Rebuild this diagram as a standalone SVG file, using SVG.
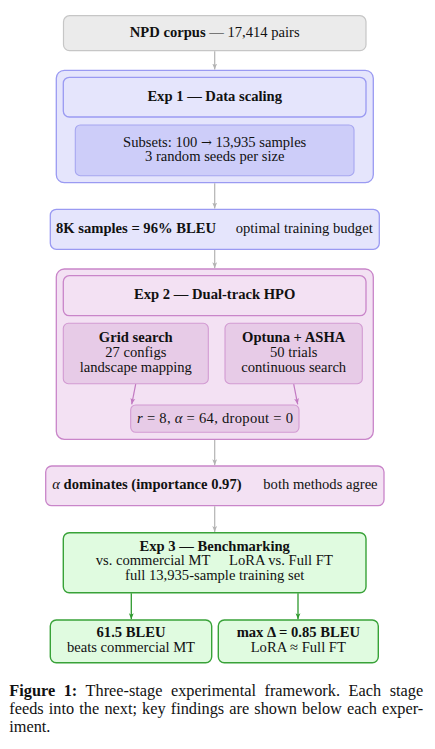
<svg xmlns="http://www.w3.org/2000/svg" width="435" height="749" viewBox="0 0 435 749">
<defs>
<style>
text{font-family:"Liberation Serif","Times New Roman",serif;font-size:14.6px;fill:#111;}
.b{font-weight:bold;}
.i{font-style:italic;}
.c{text-anchor:middle;}
.cap{font-size:16.3px;}
.gray{fill:#ebebeb;stroke:#c6c6c6;stroke-width:1.2;}
.b1{fill:#e5e5fc;stroke:#9a9af2;stroke-width:1.3;}
.b1d{fill:#cdcdf9;stroke:#a6a6f0;stroke-width:1.1;}
.b2{fill:#f3e1f3;stroke:#c985c9;stroke-width:1.3;}
.b2d{fill:#e7cbe7;stroke:#d29ad2;stroke-width:1.1;}
.b3{fill:#e0fbe0;stroke:#38a238;stroke-width:1.4;}
.cg{stroke:#b3b3b3;stroke-width:1.2;fill:none;}
.cp{stroke:#c27ac2;stroke-width:1.2;fill:none;}
.cgr{stroke:#2f9a2f;stroke-width:1.3;fill:none;}
</style>
<marker id="ag" markerUnits="userSpaceOnUse" viewBox="0 0 6 6" refX="6" refY="3" markerWidth="6" markerHeight="6" orient="auto"><path d="M0,0.6 L6,3 L0,5.4 L1.4,3 Z" fill="#b3b3b3"/></marker>
<marker id="ap" markerUnits="userSpaceOnUse" viewBox="0 0 6 6" refX="6" refY="3" markerWidth="6" markerHeight="6" orient="auto"><path d="M0,0.6 L6,3 L0,5.4 L1.4,3 Z" fill="#c27ac2"/></marker>
<marker id="agr" markerUnits="userSpaceOnUse" viewBox="0 0 6 6" refX="6" refY="3" markerWidth="6" markerHeight="6" orient="auto"><path d="M0,0.6 L6,3 L0,5.4 L1.4,3 Z" fill="#2f9a2f"/></marker>
</defs>
<rect width="435" height="749" fill="#ffffff"/>

<g id="npd">
<rect class="gray" x="63.5" y="15.7" width="302.5" height="35" rx="6"/>
<text class="c" x="214.7" y="36.9"><tspan class="b">NPD corpus</tspan> — 17,414 pairs</text>
</g>

<g id="exp1">
<rect class="b1" x="56.3" y="70.3" width="317" height="112.4" rx="8"/>
<g id="exp1-title">
<rect class="b1" x="63.3" y="77.3" width="302.7" height="39.7" rx="6"/>
<text class="c b" x="214.7" y="100.6">Exp 1 — Data scaling</text>
</g>
<g id="exp1-subsets">
<rect class="b1d" x="75.3" y="125" width="278.7" height="50.7" rx="5"/>
<text class="c" x="214.7" y="146.7">Subsets: 100 <tspan font-family="DejaVu Serif, serif" font-size="13px">→</tspan> 13,935 samples</text>
<text class="c" x="214.7" y="161.4">3 random seeds per size</text>
</g>
</g>

<g id="finding1">
<rect class="b1" x="50.3" y="209.3" width="329" height="40" rx="6"/>
<text x="56" y="233"><tspan class="b">8K samples = 96% BLEU</tspan></text>
<text x="235.7" y="233">optimal training budget</text>
</g>

<g id="exp2">
<rect class="b2" x="56.3" y="269" width="317" height="170.3" rx="8"/>
<g id="exp2-title">
<rect class="b2" x="63.3" y="275.7" width="302.7" height="40" rx="6"/>
<text class="c b" x="214.7" y="299">Exp 2 — Dual-track HPO</text>
</g>
<g id="grid">
<rect class="b2d" x="63.3" y="323.3" width="145" height="60.4" rx="5"/>
<text class="c b" x="135.8" y="342.3">Grid search</text>
<text class="c" x="135.8" y="356.9">27 configs</text>
<text class="c" x="135.8" y="371.6">landscape mapping</text>
</g>
<g id="optuna">
<rect class="b2d" x="225" y="323.3" width="137.3" height="60.4" rx="5"/>
<text class="c b" x="293.7" y="342.3">Optuna + ASHA</text>
<text class="c" x="293.7" y="356.9">50 trials</text>
<text class="c" x="293.7" y="371.6">continuous search</text>
</g>
<g id="hpo-result">
<rect class="b2d" x="130.7" y="405" width="168.3" height="27.3" rx="5"/>
<text x="137" y="422.6" textLength="156" lengthAdjust="spacing"><tspan class="i">r</tspan> = 8,  <tspan class="i">α</tspan> = 64,  dropout = 0</text>
</g>
</g>

<g id="finding2">
<rect class="b2" x="45.7" y="466" width="338.3" height="39.7" rx="6"/>
<text x="52.3" y="489"><tspan class="i">α</tspan><tspan class="b"> dominates (importance 0.97)</tspan></text>
<text x="263.3" y="489">both methods agree</text>
</g>

<g id="exp3">
<rect class="b3" x="63.3" y="532.7" width="302.7" height="60" rx="6"/>
<text class="c b" x="214.7" y="550.6">Exp 3 — Benchmarking</text>
<text x="95.7" y="565.3">vs. commercial MT</text>
<text x="229" y="565.3">LoRA vs. Full FT</text>
<text class="c" x="214.7" y="580.2">full 13,935-sample training set</text>
</g>

<g id="result-bleu">
<rect class="b3" x="50.3" y="620" width="161.4" height="42.7" rx="6"/>
<text class="c b" x="131" y="637.3">61.5 BLEU</text>
<text class="c" x="131" y="651.9">beats commercial MT</text>
</g>

<g id="result-delta">
<rect class="b3" x="218.3" y="620" width="160" height="42.7" rx="6"/>
<text class="c b" x="298.3" y="637.3">max Δ = 0.85 BLEU</text>
<text class="c" x="298.3" y="651.9">LoRA ≈ Full FT</text>
</g>

<g id="connectors">
<line class="cg" x1="214.7" y1="51.3" x2="214.7" y2="69.6" marker-end="url(#ag)"/>
<line class="cg" x1="214.7" y1="183.3" x2="214.7" y2="208.6" marker-end="url(#ag)"/>
<line class="cg" x1="214.7" y1="249.9" x2="214.7" y2="268.3" marker-end="url(#ag)"/>
<line class="cp" x1="135.7" y1="384.2" x2="131.7" y2="404.3" marker-end="url(#ap)"/>
<line class="cp" x1="293.7" y1="384.2" x2="297.7" y2="404.3" marker-end="url(#ap)"/>
<line class="cg" x1="214.7" y1="439.9" x2="214.7" y2="465.3" marker-end="url(#ag)"/>
<line class="cg" x1="214.7" y1="506.3" x2="214.7" y2="532" marker-end="url(#ag)"/>
<line class="cgr" x1="131.3" y1="593.3" x2="131.3" y2="619.3" marker-end="url(#agr)"/>
<line class="cgr" x1="298" y1="593.3" x2="298" y2="619.3" marker-end="url(#agr)"/>
</g>

<g id="caption">
<text class="cap" x="9.3" y="696.2" word-spacing="4.5"><tspan class="b">Figure 1:</tspan> Three-stage experimental framework. Each stage</text>
<text class="cap" x="9.3" y="714.3" word-spacing="1.1">feeds into the next; key findings are shown below each exper-</text>
<text class="cap" x="9.3" y="732.4">iment.</text>
</g>
</svg>
